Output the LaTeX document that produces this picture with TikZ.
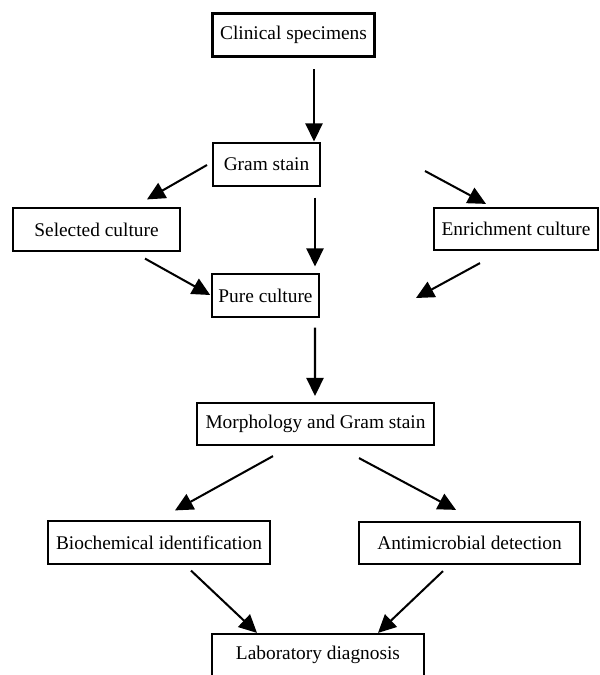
\documentclass[tikz,border=0pt]{standalone}
\usepackage{fontspec}
\setmainfont{Liberation Serif}
\usepackage{tikz}
\usetikzlibrary{arrows.meta, calc}

\begin{document}
\begin{tikzpicture}[
  x=0.0225cm, y=-0.0225cm,
  box/.style={draw=black,line width=1.3pt,minimum height=27pt,inner xsep=4pt,
              font=\fontsize{12.4}{14}\selectfont},
  arrow/.style={-{Triangle[length=11.5pt,width=11pt]},line width=1.3pt}
]
  \clip (0,0) rectangle (599,675);
  \node[box, line width=1.8pt, minimum width=104pt, minimum height=28pt] (clinical) at (293.5,35) {Clinical specimens};
  \node[box, minimum width=68.5pt] (gram) at (266.5,164.5) {Gram stain};
  \node[box, minimum width=107pt] (selected) at (96.5,229.5) {Selected culture};
  \node[box, minimum width=105pt] (enrich) at (516,229) {Enrichment culture};
  \node[box, minimum width=67pt] (pure) at (265.5,295.5) {Pure culture};
  \node[box, minimum width=151.7pt] (morph) at (315.5,424) {Morphology and Gram stain};
  \node[box, minimum width=142pt] (bio) at (159,542.5) {Biochemical identification};
  \node[box, minimum width=141.4pt] (anti) at (469.5,543) {Antimicrobial detection};
  \node[box, minimum width=135.7pt] (lab) at (318,655) {Laboratory diagnosis};
  \coordinate (gap) at (416,298);

  \draw[arrow] ($(clinical.south)+(20.5,11)$) -- ($(gram.north)+(47.5,-1)$);
  \draw[arrow] ($(gram.west)+(-5,0.5)$) -- ($(selected.north)+(50.5,-8)$);
  \draw[arrow] ($(gram.south)+(48.5,11)$) -- ($(pure.north)+(49.5,-7)$);
  \draw[arrow] ($(selected.south)+(48.5,7)$) -- ($(pure.west)+(-1,-0.5)$);
  \draw[arrow] ($(gram.east)+(104,6.5)$) -- ($(enrich.north)+(-30,-3)$);
  \draw[arrow] ($(enrich.south)+(-36,12)$) -- (gap);
  \draw[arrow] ($(pure.south)+(49.5,10)$) -- ($(morph.north)+(-0.5,-6)$);
  \draw[arrow] ($(morph.south)+(-42.5,10)$) -- ($(bio.north)+(16,-10)$);
  \draw[arrow] ($(morph.south)+(43.5,12)$) -- ($(anti.north)+(-13.5,-11)$);
  \draw[arrow] ($(bio.south)+(32,6)$) -- ($(lab.north)+(-61,0)$);
  \draw[arrow] ($(anti.south)+(-26.5,6)$) -- ($(lab.north)+(60,0)$);
\end{tikzpicture}
\end{document}
